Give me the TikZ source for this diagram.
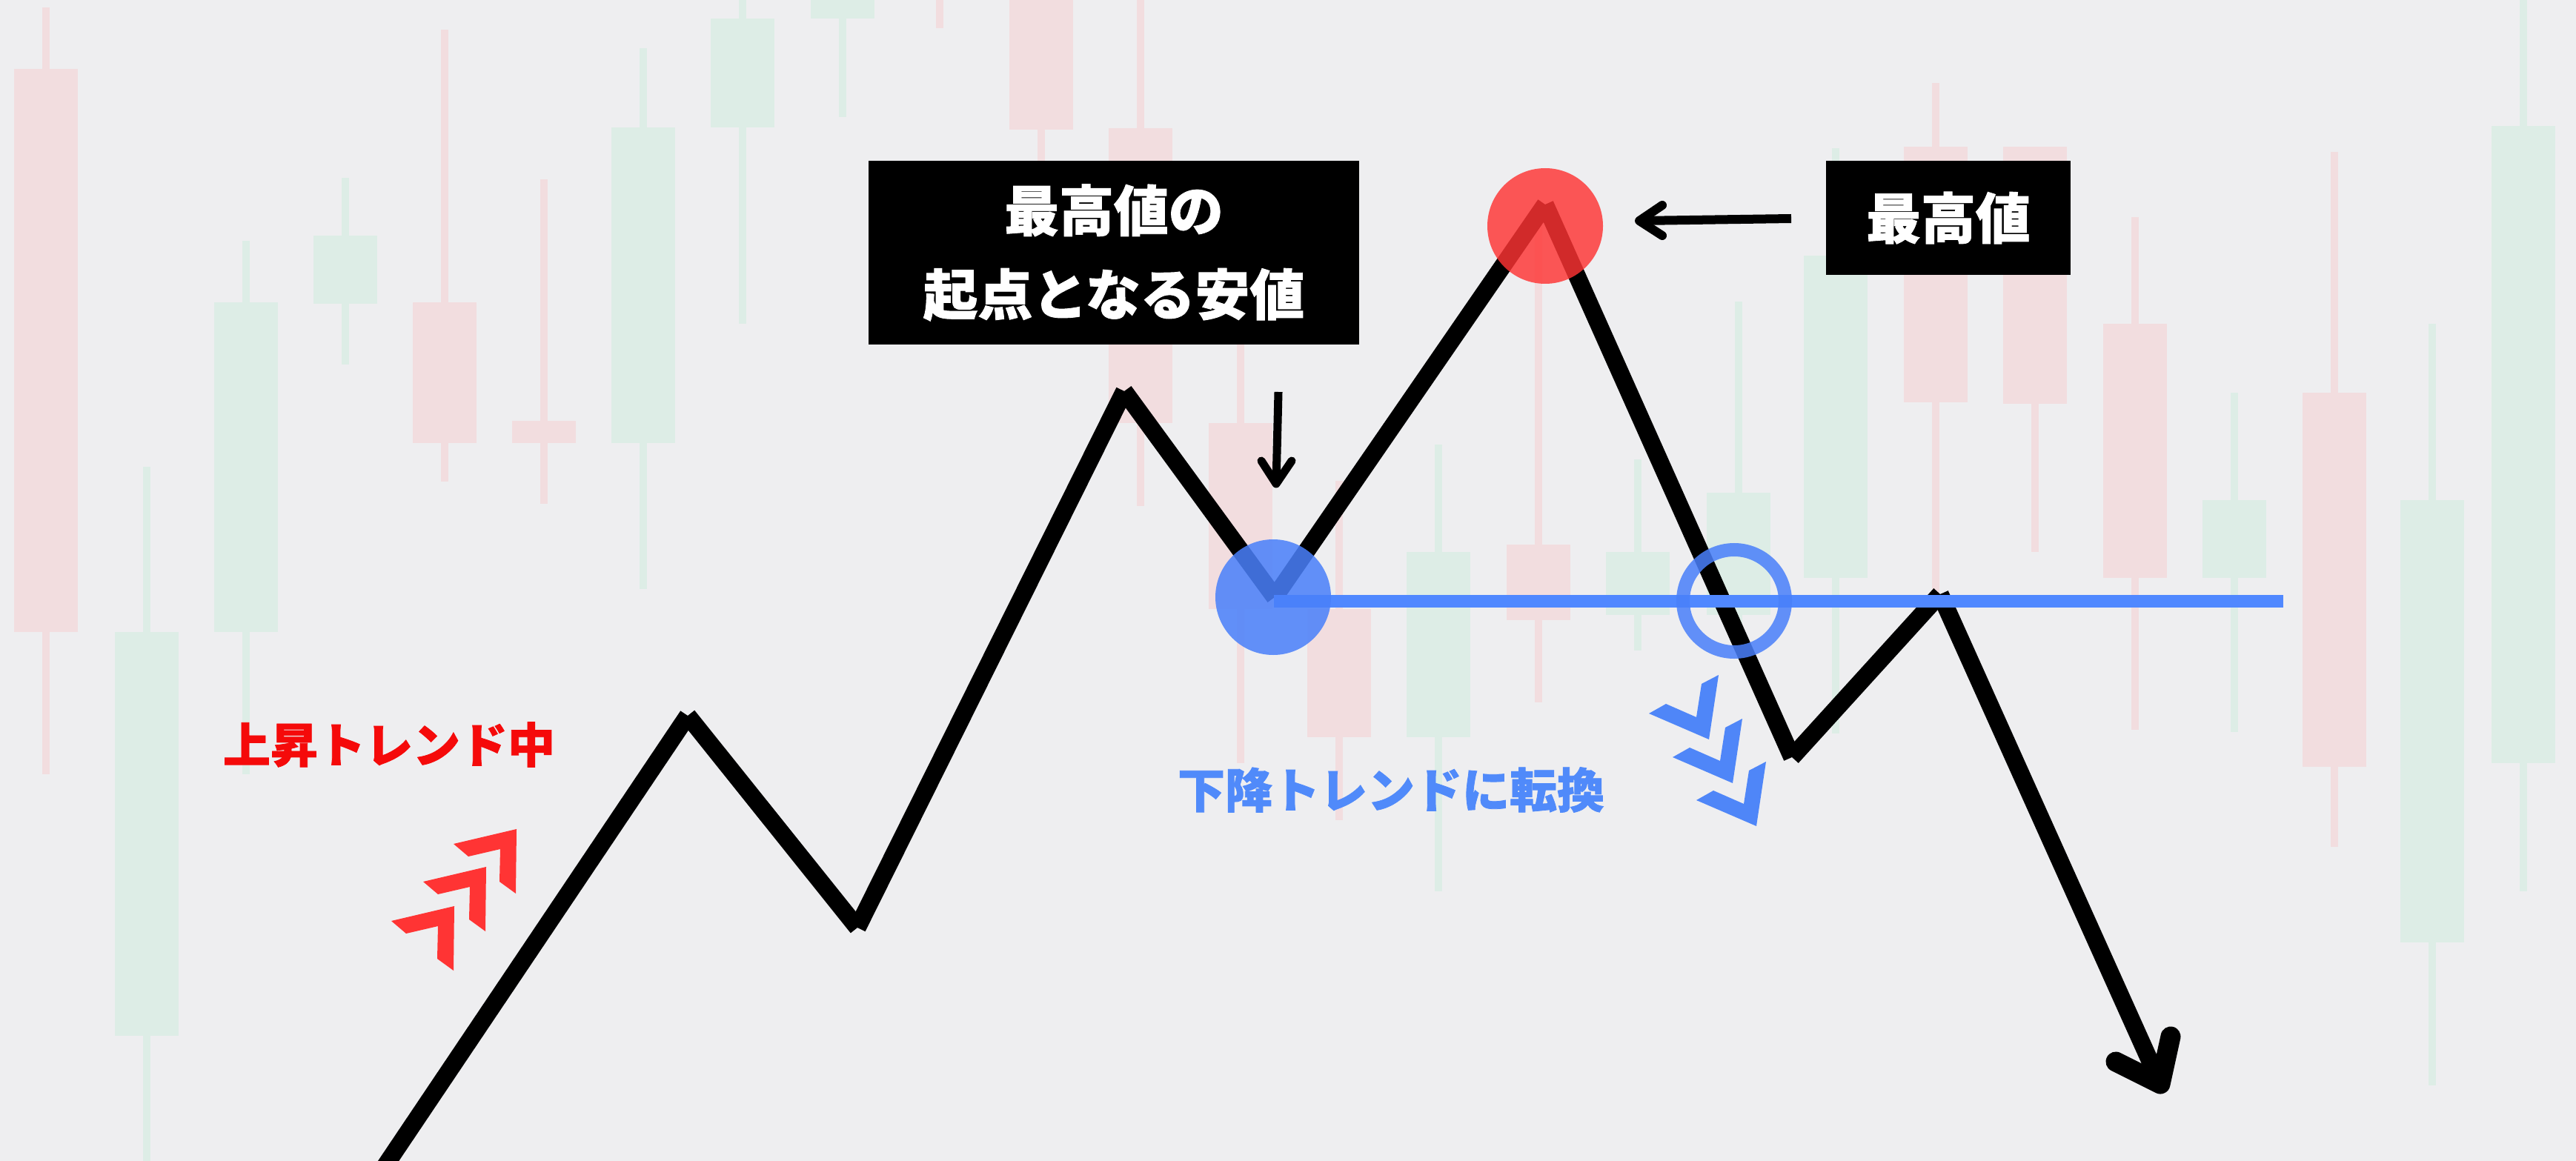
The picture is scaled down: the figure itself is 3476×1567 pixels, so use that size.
\documentclass[tikz,border=0pt]{standalone}
\usepackage{fontspec}
\newfontfamily\cjk{Noto Sans CJK JP}[BoldFeatures={FakeBold=1.2}]
\usetikzlibrary{calc}
\definecolor{bg}{HTML}{EEEEF0}
\definecolor{candr}{HTML}{F2DDDF}
\definecolor{candg}{HTML}{DDEDE6}
\definecolor{topred}{RGB}{255,52,52}
\definecolor{lowblue}{RGB}{74,128,250}
\definecolor{lvlblue}{HTML}{5088FF}
\definecolor{txtblue}{HTML}{508AFA}
\definecolor{txtred}{HTML}{F50A0A}
\definecolor{chevred}{HTML}{FF3434}
\definecolor{chevblue}{HTML}{4F86F8}
\newcommand\cndl[6]{%
  \fill[#1] ({#2+38},#5) rectangle ({#2+48},#6);
  \fill[#1] (#2,#3) rectangle ({#2+86},#4);}
\tikzset{
  zig/.style={line width=0.235cm, black, line cap=butt},
  thinarrow/.style={line width=0.11cm, black, line cap=round, line join=round},
  blackbox/.style={fill=black, text=white, inner sep=0pt, align=center,
    font=\cjk\bfseries\fontsize{21}{32.2}\selectfont},
  labeltxt/.style={inner sep=0pt, font=\cjk\bfseries\fontsize{18.2}{20}\selectfont},
  redchev/.pic={\fill[chevred] (-85,20)--(0,0)--(-1,87)--(-23,71)--(-22,27)--(-65,37)--cycle;},
  bluechev/.pic={\fill[chevblue] (-81,-35)--(0,0)--(13,-87)--(-10,-75)--(-17,-30)--(-58,-48)--cycle;}
}
\begin{document}
\begin{tikzpicture}[x=0.01cm,y=-0.01cm]
\fill[bg] (0,0) rectangle (3476,1567);
\useasboundingbox (0,0) rectangle (3476,1567);
% candles
\cndl{candr}{19}{93}{853}{10}{1045}
\cndl{candg}{155}{853}{1398}{630}{1580}
\cndl{candg}{289}{408}{853}{325}{1045}
\cndl{candg}{423}{318}{410}{240}{492}
\cndl{candr}{557}{408}{598}{40}{650}
\cndl{candr}{691}{568}{598}{242}{680}
\cndl{candg}{825}{172}{598}{65}{795}
\cndl{candg}{959}{25}{172}{-10}{437}
\cndl{candg}{1094}{-10}{25}{-10}{158}
\fill[candr] (1263,-10) rectangle (1273,38);
\cndl{candr}{1362}{-10}{175}{-10}{230}
\cndl{candr}{1496}{173}{571}{-10}{683}
\cndl{candr}{1631}{571}{822}{465}{1030}
\cndl{candr}{1764}{822}{995}{649}{1107}
\cndl{candg}{1898}{745}{995}{600}{1203}
\cndl{candr}{2033}{735}{837}{300}{948}
\cndl{candg}{2167}{745}{830}{620}{878}
\cndl{candg}{2303}{665}{830}{407}{880}
\cndl{candg}{2434}{345}{780}{200}{990}
\cndl{candr}{2569}{198}{543}{112}{800}
\cndl{candr}{2703}{198}{545}{200}{745}
\cndl{candr}{2838}{437}{780}{293}{985}
\cndl{candg}{2972}{675}{780}{530}{988}
\cndl{candr}{3107}{530}{1035}{205}{1143}
\cndl{candg}{3239}{675}{1272}{437}{1465}
\cndl{candg}{3362}{170}{1030}{-10}{1203}
% price path
\coordinate (p0) at (514,1582);
\coordinate (p1) at (928,966);
\coordinate (p2) at (1157,1252);
\coordinate (p3) at (1517,528);
\coordinate (p4) at (1720,806);
\coordinate (p5) at (2085,276);
\coordinate (p6) at (2418,1022);
\coordinate (p7) at (2618,802);
\coordinate (p8) at (2915,1463);
\foreach \a/\b in {p0/p1,p1/p2,p2/p3,p3/p4,p4/p5,p5/p6,p6/p7,p7/p8}
  \draw[zig] (\a) -- (\b);
\draw[zig, line width=0.27cm, line cap=round, line join=round]
  ($(p8)+(-60,-30)$) -- (p8) -- ($(p8)+(14,-64)$);
% level line
\coordinate (lvl) at (1719,811);
\coordinate (lvlend) at (3081,811);
\draw[lvlblue, line width=0.17cm] (lvl) -- (lvlend);
% circles
\fill[topred, opacity=0.82] (2085,305) circle[radius=78];
\fill[lowblue, opacity=0.86] (1718,806) circle[radius=78];
\draw[lowblue, opacity=0.86, line width=0.18cm] (2340,811) circle[radius=69];
% boxes
\node[blackbox, minimum width=6.61cm, minimum height=2.48cm] (box1) at (1503,341)
  {最高値の\\起点となる安値};
\node[blackbox, minimum width=3.30cm, minimum height=1.54cm] (box2) at (2629,294)
  {最高値};
% arrows
\coordinate (a1s) at (1725,529);
\coordinate (a1e) at (1722,653);
\draw[thinarrow, line cap=butt] (a1s) -- (a1e);
\draw[thinarrow] ($(a1e)+(-20,-31)$) -- (a1e) -- ($(a1e)+(21,-31)$);
\coordinate (a2s) at (2417,295);
\coordinate (a2e) at (2212,298);
\draw[thinarrow, line width=0.12cm, line cap=butt] (a2s) -- (a2e);
\draw[thinarrow, line width=0.12cm] ($(a2e)+(31,-21)$) -- (a2e) -- ($(a2e)+(31,20)$);
% labels
\node[labeltxt, text=txtred] (uplbl) at (525,1005) {上昇トレンド中};
\node[labeltxt, text=txtblue] (downlbl) at (1877,1066) {下降トレンドに転換};
% chevrons
\pic at (697,1119) {redchev};
\pic at (656,1170) {redchev};
\pic at (613,1223) {redchev};
\pic at (2306,998) {bluechev};
\pic at (2338,1057) {bluechev};
\pic at (2370,1115) {bluechev};
\end{tikzpicture}
\end{document}
